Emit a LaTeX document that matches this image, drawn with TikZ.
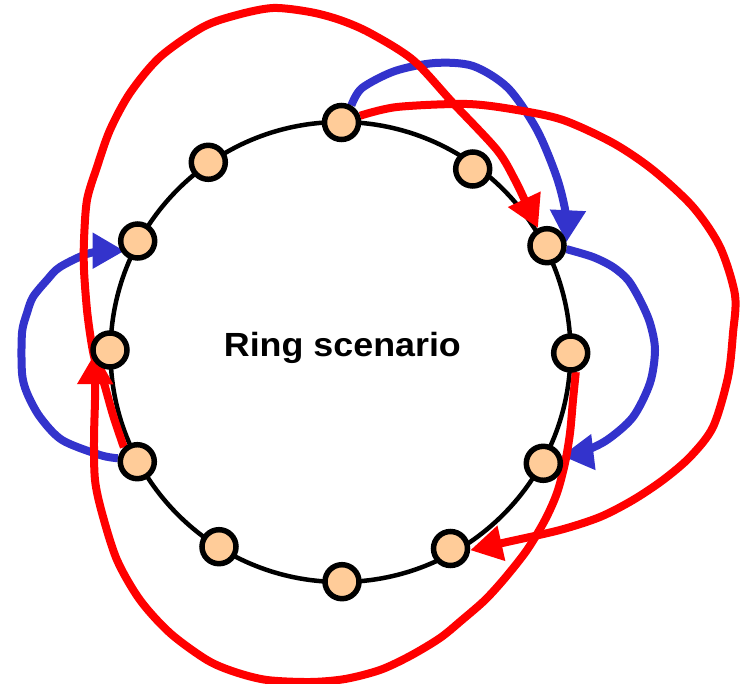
\documentclass[tikz,border=0pt]{standalone}
\usepackage{fontspec}
\usepackage{graphicx}
\setmainfont{Liberation Sans}
\usetikzlibrary{arrows.meta,backgrounds}
\definecolor{peach}{RGB}{255,204,153}
\definecolor{ringblue}{RGB}{51,51,204}
\definecolor{ringred}{RGB}{255,0,0}
\begin{document}
\begin{tikzpicture}[x=1bp,y=-1bp,
  station/.style={circle,draw=black,fill=peach,line width=5.5bp,minimum size=34bp,inner sep=0pt},
  ringline/.style={draw=black,line width=4.5bp},
  redarc/.style={draw=ringred,fill=none,line width=8bp,line join=round,-{Triangle[length=32bp,width=34bp,fill=ringred]}},
  bluearc/.style={draw=ringblue,fill=none,line width=8bp,line join=round,-{Triangle[length=32bp,width=34bp,fill=ringblue]}},
  title/.style={inner sep=0pt,anchor=base}
]
\useasboundingbox (0,0) rectangle (741,684);
% stations
\node[station] (n0) at (341.5,122.5) {};
\node[station] (n1) at (472.7,169) {};
\node[station] (n2) at (547,245.7) {};
\node[station] (n3) at (570.7,353) {};
\node[station] (n4) at (543.3,463.3) {};
\node[station] (n5) at (450.5,548.5) {};
\node[station] (n6) at (342,581.7) {};
\node[station] (n7) at (219,546.7) {};
\node[station] (n8) at (137.3,461.7) {};
\node[station] (n9) at (110,350) {};
\node[station] (n10) at (137.7,241) {};
\node[station] (n11) at (208.3,162.3) {};
\node[title] (label) at (342.4,356) {\scalebox{1.07}[1]{\fontsize{33.5bp}{40bp}\selectfont\bfseries Ring scenario}};
\begin{pgfonlayer}{background}
\draw[ringline] (340.5,352) circle[radius=230];
% blue arcs
\draw[bluearc] plot[smooth] coordinates {(n0.60) (362,88) (395,71) (435,63) (473,66) (508,88) (537,130) (557,178) (566,215) (n2.10)};
\draw[bluearc] plot[smooth] coordinates {(n2.-10) (593,257) (613,267) (628,280) (640,300) (650,323) (655,350) (650,383) (633,417) (607,440) (582,452) (n4.22)};
\draw[bluearc,shorten >=-4bp] plot[smooth] coordinates {(n8.170) (100,455) (62,440) (40,417) (27,393) (22,373) (22,333) (27,313) (33,297) (47,280) (60,267) (90,253) (n10.210)};
% red arcs
\draw[redarc] plot[smooth] coordinates {(n0.20) (397,107) (467,104) (517,110) (563,120) (613,143) (653,170) (693,207) (720,247) (735,295) (733,333) (728,377) (713,427) (690,457) (663,480) (633,500) (600,517) (560,530) (507,542) (n5.-5)};
\draw[redarc] plot[smooth] coordinates {(n8.133) (113,415) (103,380) (95,360) (91,340) (87,310) (84,270) (84,240) (87,200) (97,167) (110,130) (130,93) (160,57) (203,27) (237,15) (273,8) (310,12) (340,20) (370,33) (413,60) (453,103) (497,150) (515,180) (527,205) (n2.117)};
\draw[redarc,shorten >=-11bp] plot[smooth] coordinates {(n3.-75) (573,400) (570,433) (565,463) (557,493) (545,520) (527,550) (505,578) (485,600) (462,620) (440,638) (410,656) (380,670) (345,679) (310,682) (267,680) (235,672) (207,660) (170,633) (140,600) (117,560) (102,513) (95,480) (94,440) (95,400) (n9.222)};
\end{pgfonlayer}
\end{tikzpicture}
\end{document}
